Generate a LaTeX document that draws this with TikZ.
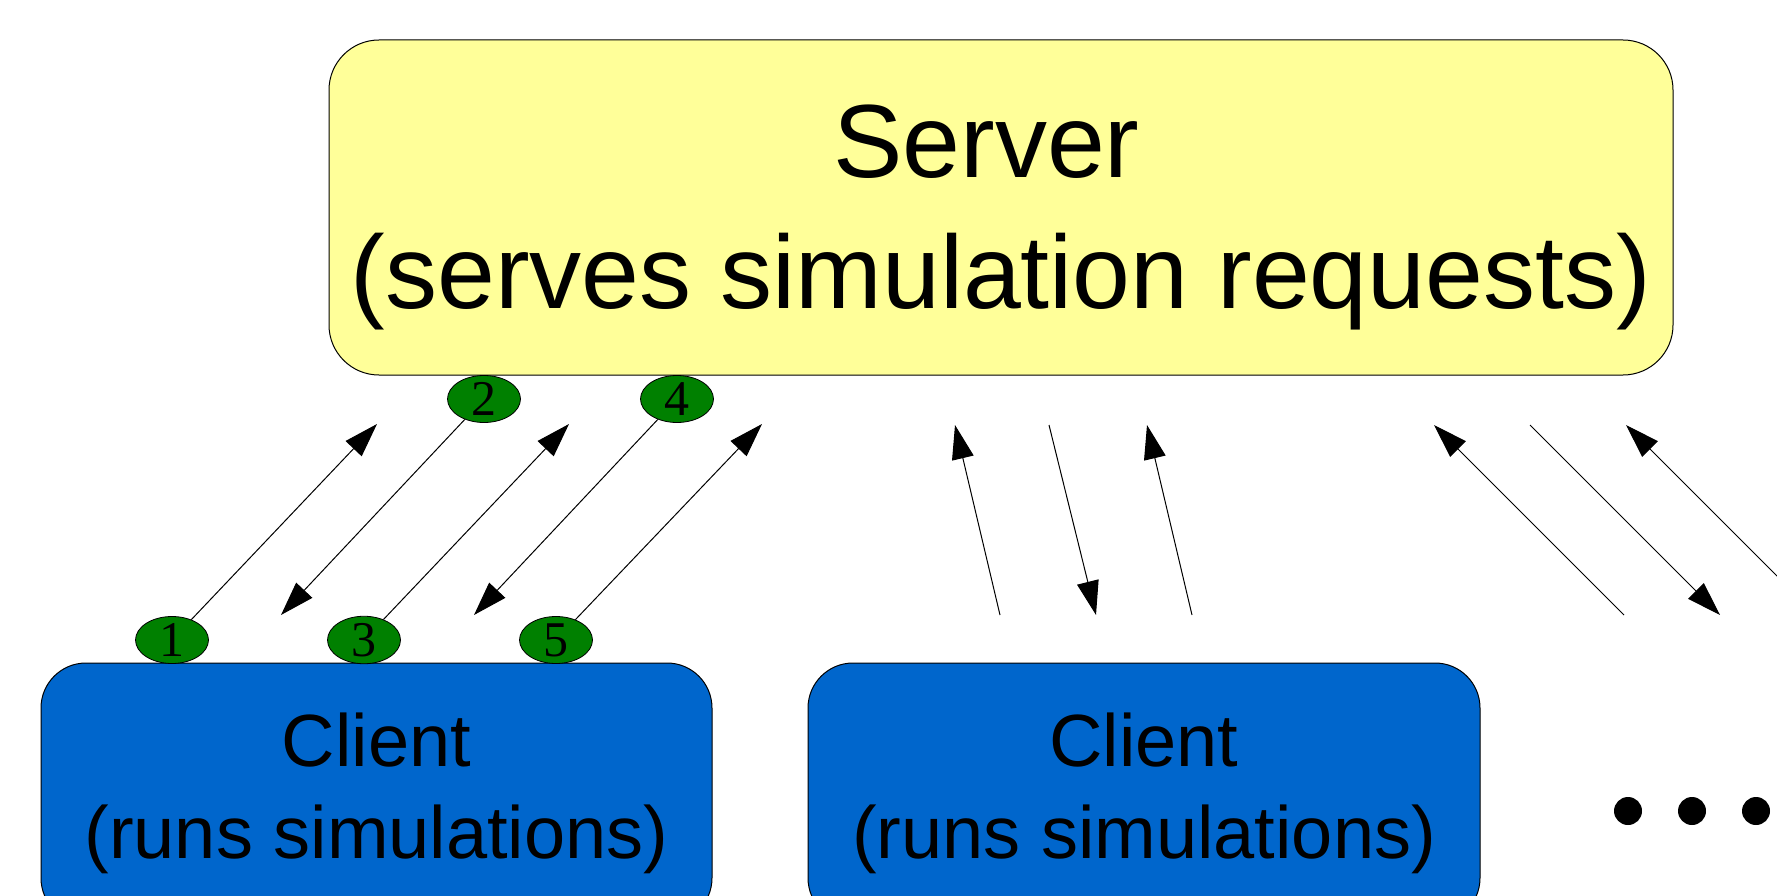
\documentclass[tikz,border=0pt]{standalone}
\usepackage{fontspec}
\setmainfont{Liberation Sans}
\newfontfamily\numfont{Liberation Serif}
\usetikzlibrary{positioning, arrows.meta, shapes.geometric}
\definecolor{serveryellow}{RGB}{255,255,153}
\definecolor{clientblue}{RGB}{0,102,204}
\definecolor{ordergreen}{RGB}{0,128,0}

\begin{document}
\begin{tikzpicture}[x=1pt, y=-1pt,
    box/.style={draw, line width=1pt},
    msg/.style={line width=1pt, arrows = {-Triangle[width=22pt, length=34pt]}},
    order/.style={draw, ellipse, fill=ordergreen, line width=0.8pt, minimum width=73pt, minimum height=47pt, inner sep=0pt, font=\numfont\fontsize{50}{50}\selectfont}]
    \useasboundingbox (0,0) rectangle (1777,896);
    \clip (0,0) rectangle (1777,896);

    % server
    \node[box, fill=serveryellow, rounded corners=50pt, minimum width=1344pt, minimum height=335pt] at (1001,207.5) (server) {};
    \node[align=center, font=\fontsize{104}{131}\selectfont] at ([yshift=-10pt]server.center) (servertext) {Server\kern29pt\\(serves simulation requests)};

    % clients
    \node[box, fill=clientblue, rounded corners=45pt, minimum width=671pt, minimum height=260pt, align=center, font=\fontsize{74}{92}\selectfont] at (376.5,793) (client1) {Client\\(runs simulations)};
    \node[box, fill=clientblue, rounded corners=45pt, minimum width=672pt, minimum height=260pt, align=center, font=\fontsize{74}{92}\selectfont] at (1144,793) (client2) {Client\\(runs simulations)};

    \foreach \x [count=\i] in {1628,1692,1756}
        \node[circle, fill=black, minimum size=28pt, inner sep=0pt] (dot\i) at (\x,811) {};

    % numbered messages
    \node[order] at (172,640) (o1) {1};
    \node[order] at (484,399) (o2) {2};
    \node[order] at (364,640) (o3) {3};
    \node[order] at (677,399) (o4) {4};
    \node[order] at (556,640) (o5) {5};

    \coordinate (t1) at (377,424);
    \coordinate (t2) at (281,615);
    \coordinate (t3) at (569,424);
    \coordinate (t4) at (474,615);
    \coordinate (t5) at (762,424);

    \draw[msg] (o1) -- (t1);
    \draw[msg] (o2) -- (t2);
    \draw[msg] (o3) -- (t3);
    \draw[msg] (o4) -- (t4);
    \draw[msg] (o5) -- (t5);

    % second client
    \coordinate (m1) at (1000,615);
    \coordinate (m2) at (955,425);
    \coordinate (m3) at (1049,425);
    \coordinate (m4) at (1096,615);
    \coordinate (m5) at (1192,615);
    \coordinate (m6) at (1147,425);
    \draw[msg] (m1) -- (m2);
    \draw[msg] (m3) -- (m4);
    \draw[msg] (m5) -- (m6);

    % further clients
    \coordinate (r1) at (1624,615);
    \coordinate (r2) at (1434,425);
    \coordinate (r3) at (1530,425);
    \coordinate (r4) at (1720,615);
    \coordinate (r5) at (1816,615);
    \coordinate (r6) at (1626,425);
    \draw[msg] (r1) -- (r2);
    \draw[msg] (r3) -- (r4);
    \draw[msg] (r5) -- (r6);
\end{tikzpicture}
\end{document}
